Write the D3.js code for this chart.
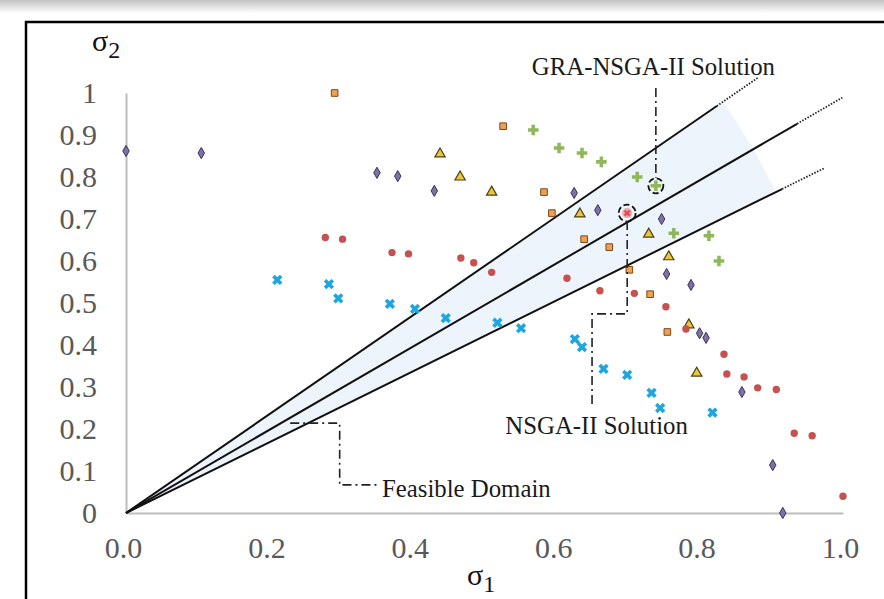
<!DOCTYPE html>
<html lang="en">
<head>
<meta charset="UTF-8">
<title>Feasible domain: sigma1 vs sigma2</title>
<script src="https://d3js.org/d3.v7.min.js"></script>
<style>
    body { margin: 0; background: #fff; }
    svg { display: block; }
</style>
</head>
<body>
<svg id="chart" width="884" height="599"></svg>
<script>
    // values (sigma1 = x, sigma2 = y)
    const diamondX = [0, 0.105, 0.35, 0.379, 0.43, 0.625, 0.658, 0.747, 0.754, 0.788, 0.8, 0.809, 0.859, 0.902, 0.916];
    const diamondY = [0.862, 0.857, 0.81, 0.802, 0.767, 0.762, 0.721, 0.70, 0.569, 0.543, 0.428, 0.417, 0.288, 0.114, 0.0];

    const squareX = [0.291, 0.526, 0.583, 0.594, 0.639, 0.674, 0.702, 0.731, 0.755];
    const squareY = [1.0, 0.921, 0.764, 0.714, 0.652, 0.633, 0.579, 0.521, 0.431];

    const triangleX = [0.438, 0.466, 0.51, 0.633, 0.729, 0.757, 0.785, 0.796];
    const triangleY = [0.855, 0.80, 0.764, 0.712, 0.664, 0.61, 0.448, 0.333];

    const plusX = [0.568, 0.604, 0.636, 0.663, 0.713, 0.739, 0.764, 0.813, 0.827];
    const plusY = [0.912, 0.869, 0.857, 0.836, 0.80, 0.779, 0.666, 0.66, 0.60];

    const circleX = [0.278, 0.302, 0.371, 0.394, 0.467, 0.485, 0.51, 0.615, 0.661, 0.709, 0.753, 0.781, 0.834, 0.838, 0.862, 0.881, 0.907, 0.932, 0.957, 1.0];
    const circleY = [0.656, 0.652, 0.62, 0.617, 0.607, 0.596, 0.573, 0.559, 0.529, 0.523, 0.491, 0.438, 0.378, 0.331, 0.324, 0.298, 0.294, 0.19, 0.184, 0.04];

    const crossX = [0.211, 0.283, 0.296, 0.368, 0.403, 0.446, 0.518, 0.551, 0.626, 0.636, 0.666, 0.699, 0.733, 0.745, 0.818];
    const crossY = [0.555, 0.545, 0.511, 0.498, 0.486, 0.464, 0.453, 0.44, 0.414, 0.395, 0.343, 0.329, 0.286, 0.25, 0.239];

    // highlighted solutions
    const graSolution = [0.739, 0.779];
    const nsgaSolution = [0.699, 0.714];

    // rays of the feasible domain: slope, end of solid part, end of dotted part
    const raySlope = [1.176, 0.99, 0.843];
    const raySolidEnd = [0.824, 0.936, 0.915];
    const rayDotEnd = [0.881, 0.999, 0.974];

    const xTicks = [0, 0.2, 0.4, 0.6, 0.8, 1.0];
    const yTicks = [0, 0.1, 0.2, 0.3, 0.4, 0.5, 0.6, 0.7, 0.8, 0.9, 1];

    // leader lines of the annotations
    const graLeader = [[0.739, 1.012], [0.739, 0.798]];
    const nsgaLeader = [[0.699, 0.695], [0.699, 0.474], [0.650, 0.474], [0.650, 0.255]];
    const feasibleLeader = [[0.229, 0.214], [0.298, 0.214], [0.298, 0.067], [0.351, 0.067]];

    const svg = d3.select("#chart");
    const serif = "'Liberation Serif', 'Times New Roman', serif";

    // grey shadow on top and the cropped black frame
    const defs = svg.append("defs");
    const grad = defs.append("linearGradient").attr("id", "topShade")
        .attr("x1", 0).attr("y1", 0).attr("x2", 0).attr("y2", 1);
    grad.append("stop").attr("offset", "0%").attr("stop-color", "#c2c2c2");
    grad.append("stop").attr("offset", "100%").attr("stop-color", "#ffffff");
    svg.append("rect").attr("x", 0).attr("y", 0).attr("width", 884).attr("height", 13)
        .attr("fill", "url(#topShade)");
    svg.append("rect").attr("x", 26).attr("y", 22).attr("width", 900).attr("height", 700)
        .attr("fill", "none").attr("stroke", "#000").attr("stroke-width", 2.5);

    const x = d3.scaleLinear().domain([0, 1]).range([126, 843]);
    const y = d3.scaleLinear().domain([0, 1]).range([513, 93]);

    // shaded sector between upper and lower rays
    const ox = x(0), oy = y(0);
    const angOf = i => Math.atan2(x(1) - ox, -(y(raySlope[i]) - oy)); // d3.arc angle (from 12 o'clock, clockwise)
    svg.append("path")
        .attr("transform", `translate(${ox},${oy})`)
        .attr("d", d3.arc()({ innerRadius: 0, outerRadius: 725, startAngle: angOf(0), endAngle: angOf(2) }))
        .attr("fill", "#eef4fb");

    // axes
    const xAxis = svg.append("g")
        .attr("transform", `translate(0,${y(0)})`)
        .call(d3.axisBottom(x).tickValues(xTicks).tickFormat(d3.format(".1f")).tickSize(0).tickPadding(24));
    xAxis.selectAll("text").attr("dx", -3);

    const yAxis = svg.append("g")
        .attr("transform", `translate(${x(0)},0)`)
        .call(d3.axisLeft(y).tickValues(yTicks).tickFormat(d => (d === 0 || d === 1) ? d : d.toFixed(1)).tickSize(0).tickPadding(29));

    [xAxis, yAxis].forEach(a => {
        a.select(".domain").attr("stroke", "#bdbdbd").attr("stroke-width", 2);
        a.selectAll("text").attr("font-family", serif).attr("font-size", 30).attr("fill", "#595959");
    });

    // rays
    const line = d3.line().x(d => x(d[0])).y(d => y(d[1]));
    raySlope.forEach((s, i) => {
        svg.append("path")
            .attr("d", line([[0, 0], [raySolidEnd[i], s * raySolidEnd[i]]]))
            .attr("stroke", "#111").attr("stroke-width", 2).attr("fill", "none");
        svg.append("path")
            .attr("d", line([[raySolidEnd[i], s * raySolidEnd[i]], [rayDotEnd[i], s * rayDotEnd[i]]]))
            .attr("stroke", "#222").attr("stroke-width", 1.8).attr("stroke-dasharray", "1.5,1.5").attr("fill", "none");
    });

    // markers
    const zip = (xs, ys) => xs.map((v, i) => [v, ys[i]]);

    svg.append("g").selectAll("path")
        .data(zip(diamondX, diamondY)).join("path")
        .attr("transform", d => `translate(${x(d[0])},${y(d[1])})`)
        .attr("d", d3.symbol(d3.symbolDiamond, 36))
        .attr("fill", "#7e70a8").attr("stroke", "#3a3157").attr("stroke-width", 1);

    svg.append("g").selectAll("path")
        .data(zip(squareX, squareY)).join("path")
        .attr("transform", d => `translate(${x(d[0])},${y(d[1])})`)
        .attr("d", d3.symbol(d3.symbolSquare, 44))
        .attr("fill", "#f0a04f").attr("stroke", "#7a4a1c").attr("stroke-width", 1);

    svg.append("g").selectAll("path")
        .data(zip(triangleX, triangleY)).join("path")
        .attr("transform", d => `translate(${x(d[0])},${y(d[1])})`)
        .attr("d", d3.symbol(d3.symbolTriangle, 46))
        .attr("fill", "#e9c63c").attr("stroke", "#4d4010").attr("stroke-width", 1.2);

    svg.append("g").selectAll("path")
        .data(zip(plusX, plusY)).join("path")
        .attr("transform", d => `translate(${x(d[0])},${y(d[1])})`)
        .attr("d", d3.symbol(d3.symbolCross, 62))
        .attr("fill", "#8fb85c");

    svg.append("g").selectAll("circle")
        .data(zip(circleX, circleY)).join("circle")
        .attr("cx", d => x(d[0])).attr("cy", d => y(d[1])).attr("r", 3.7)
        .attr("fill", "#c5524f");

    svg.append("g").selectAll("path")
        .data(zip(crossX, crossY)).join("path")
        .attr("transform", d => `translate(${x(d[0])},${y(d[1])}) rotate(45)`)
        .attr("d", d3.symbol(d3.symbolCross, 66))
        .attr("fill", "#1ea6e0");

    // NSGA-II solution marker
    svg.append("circle")
        .attr("cx", x(nsgaSolution[0])).attr("cy", y(nsgaSolution[1])).attr("r", 5)
        .attr("fill", "#f2a7b0");
    svg.append("path")
        .attr("transform", `translate(${x(nsgaSolution[0])},${y(nsgaSolution[1])}) rotate(45)`)
        .attr("d", d3.symbol(d3.symbolCross, 30))
        .attr("fill", "#d9534f");

    // dashed circles round the two solutions
    [[graSolution, 7.5], [nsgaSolution, 8.5]].forEach(([p, r]) => {
        svg.append("circle")
            .attr("cx", x(p[0])).attr("cy", y(p[1])).attr("r", r)
            .attr("fill", "none").attr("stroke", "#111").attr("stroke-width", 1.8)
            .attr("stroke-dasharray", "6,3");
    });

    // dash-dot leader lines
    [graLeader, nsgaLeader, feasibleLeader].forEach(pts => {
        svg.append("path")
            .attr("d", line(pts))
            .attr("fill", "none").attr("stroke", "#222").attr("stroke-width", 1.6)
            .attr("stroke-dasharray", "9,4,2,4");
    });

    // annotation texts
    const notes = [
        { text: "GRA-NSGA-II Solution", at: [0.566, 1.043] },
        { text: "NSGA-II Solution", at: [0.529, 0.188] },
        { text: "Feasible Domain", at: [0.357, 0.038] }
    ];
    svg.append("g").selectAll("text")
        .data(notes).join("text")
        .attr("x", d => x(d.at[0])).attr("y", d => y(d.at[1]))
        .attr("font-family", serif).attr("font-size", 24.8).attr("fill", "#1a1a1a")
        .text(d => d.text);

    // axis titles
    const t2 = svg.append("text").attr("x", 92).attr("y", 51)
        .attr("font-family", serif).attr("fill", "#111");
    t2.append("tspan").attr("font-size", 30).text("σ");
    t2.append("tspan").attr("font-size", 24).attr("dy", 7).text("2");

    const t1 = svg.append("text").attr("x", 467).attr("y", 585)
        .attr("font-family", serif).attr("fill", "#111");
    t1.append("tspan").attr("font-size", 30).text("σ");
    t1.append("tspan").attr("font-size", 24).attr("dy", 7).text("1");
</script>
</body>
</html>
